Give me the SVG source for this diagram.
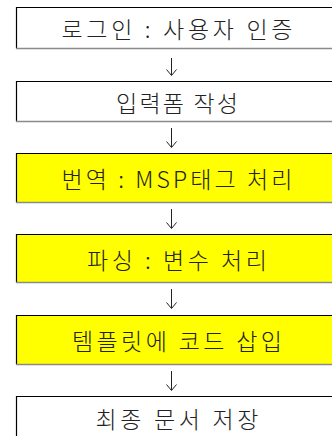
<svg xmlns="http://www.w3.org/2000/svg" width="332" height="436" viewBox="0 0 332 436">
<style>
.box{stroke:none}
.w{fill:#ffffff}
.y{fill:#ffff00}
.edge{stroke:#000;stroke-width:1.2;fill:none}
.shadow{stroke:#8a8a8a;stroke-width:1.5;fill:none}
.lbl{font-family:"Noto Sans CJK KR","Noto Sans",sans-serif;font-size:23px;font-weight:300;fill:#222;text-anchor:middle;dominant-baseline:central}
.conn{stroke:#222;stroke-width:1;fill:none}
</style>
<rect width="332" height="436" fill="#fff"/>
<g id="n1">
<rect class="box w" x="16" y="7" width="317" height="42"/>
<path class="edge" d="M333,7.5 H16.5 V48.5"/>
<path class="shadow" d="M16,48.5 H333"/>
<text class="lbl" x="177" y="28" textLength="231" lengthAdjust="spacing">로그인 : 사용자 인증</text>
</g>
<g id="n2">
<rect class="box w" x="16" y="81" width="317" height="41"/>
<path class="edge" d="M333,81.5 H16.5 V121.5"/>
<path class="shadow" d="M16,121.5 H333"/>
<text class="lbl" x="177" y="101.5" textLength="122" lengthAdjust="spacing">입력폼 작성</text>
</g>
<g id="n3">
<rect class="box y" x="16" y="153" width="317" height="50"/>
<path class="edge" d="M333,153.5 H16.5 V202.5"/>
<path class="shadow" d="M16,202.5 H333"/>
<text class="lbl" x="177" y="178" textLength="231" lengthAdjust="spacing">번역 : MSP태그 처리</text>
</g>
<g id="n4">
<rect class="box y" x="16" y="234" width="317" height="49"/>
<path class="edge" d="M333,234.5 H16.5 V282.5"/>
<path class="shadow" d="M16,282.5 H333"/>
<text class="lbl" x="177" y="259" textLength="180" lengthAdjust="spacing">파싱 : 변수 처리</text>
</g>
<g id="n5">
<rect class="box y" x="16" y="315" width="317" height="50"/>
<path class="edge" d="M333,315.5 H16.5 V364.5"/>
<path class="shadow" d="M16,364.5 H333"/>
<text class="lbl" x="177" y="340" textLength="210" lengthAdjust="spacing">템플릿에 코드 삽입</text>
</g>
<g id="n6">
<rect class="box w" x="16" y="396" width="317" height="41"/>
<path class="edge" d="M333,396.5 H16.5 V437"/>
<text class="lbl" x="177" y="417.5" textLength="163" lengthAdjust="spacing">최종 문서 저장</text>
</g>
<g id="connectors">
<path class="conn" d="M171.5,58 V75 M166.5,69.5 L171.5,75.5 L176.5,69.5"/>
<path class="conn" d="M171.5,128 V147 M166.5,141.5 L171.5,147.5 L176.5,141.5"/>
<path class="conn" d="M171.5,209 V228 M166.5,222.5 L171.5,228.5 L176.5,222.5"/>
<path class="conn" d="M171.5,289 V308 M166.5,302.5 L171.5,308.5 L176.5,302.5"/>
<path class="conn" d="M171.5,371 V390 M166.5,384.5 L171.5,390.5 L176.5,384.5"/>
</g>
</svg>
